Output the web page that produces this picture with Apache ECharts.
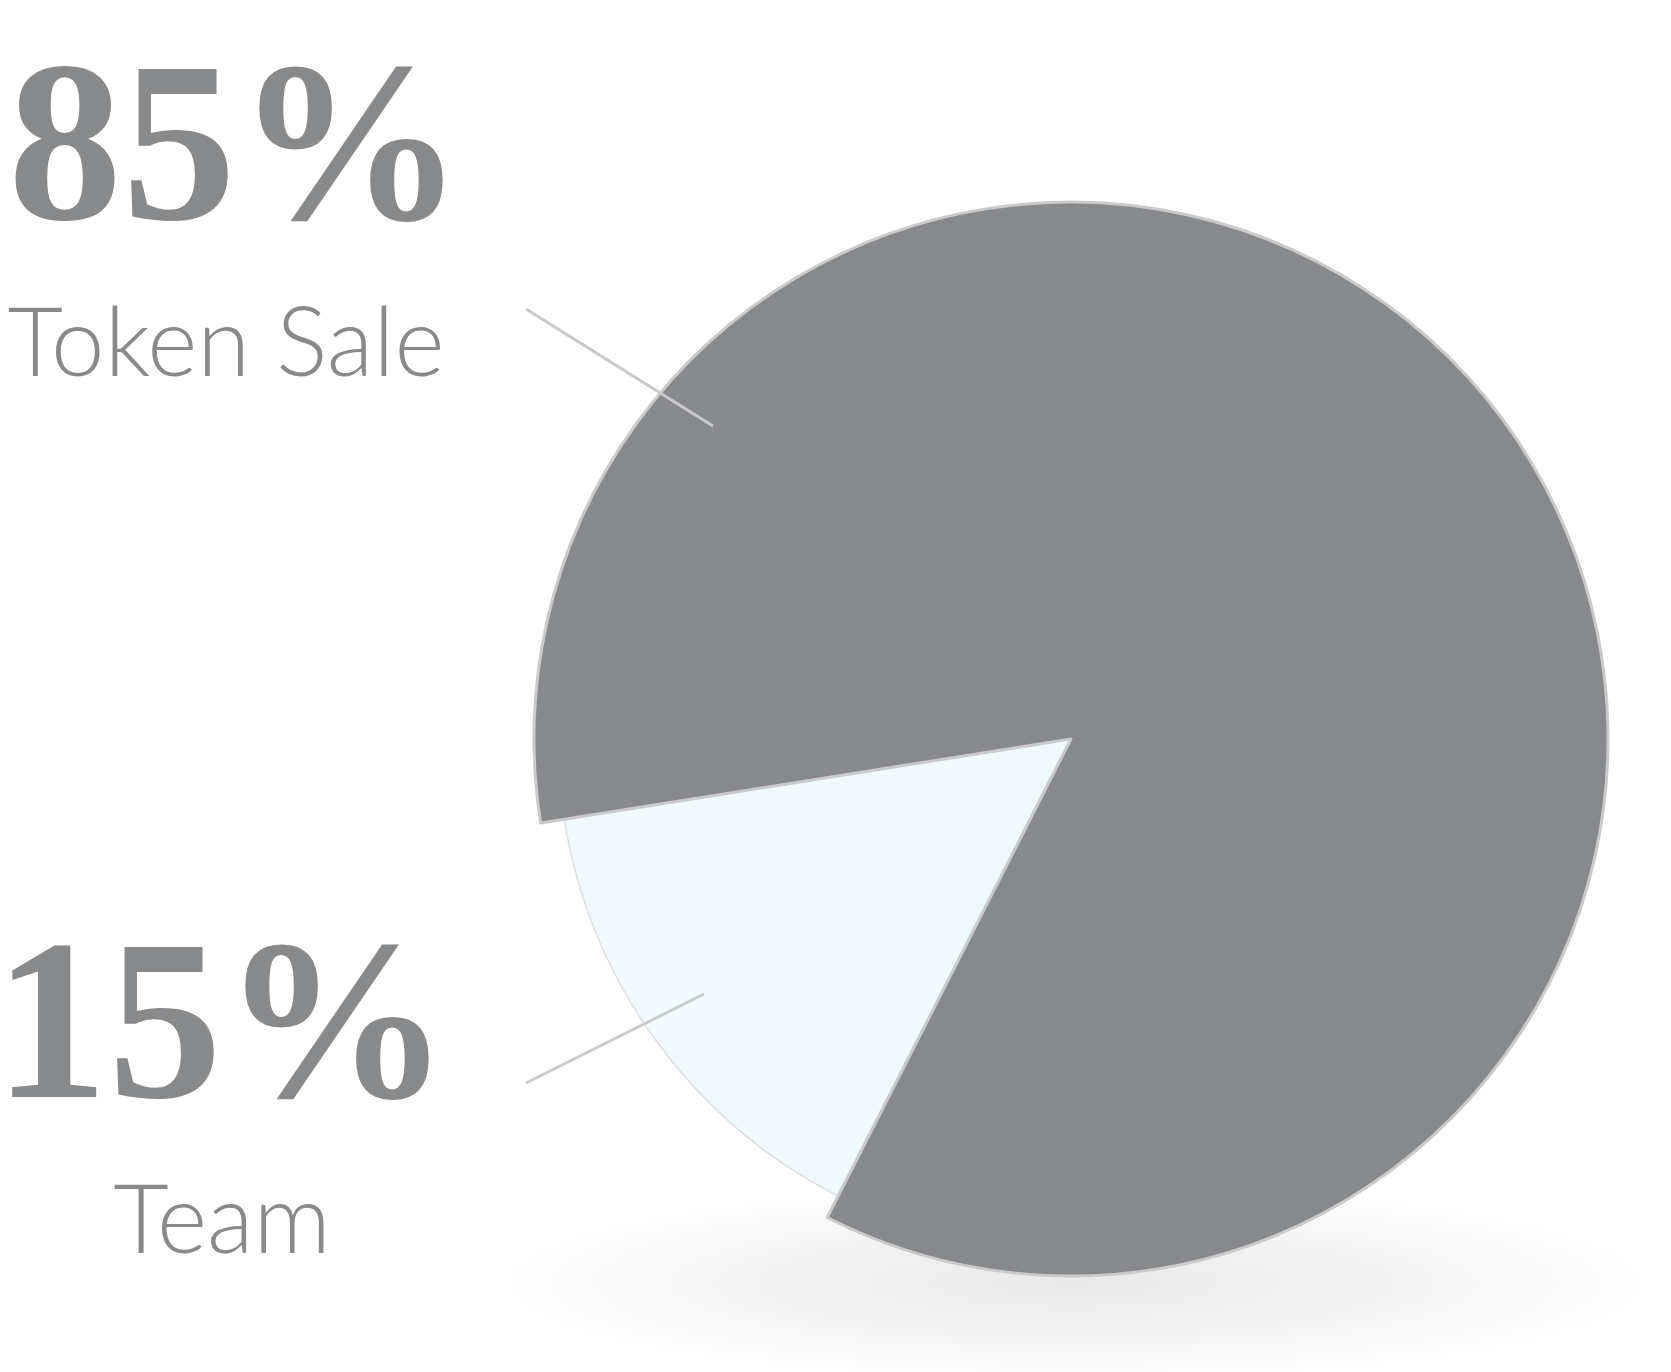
<!DOCTYPE html>
<html>
<head>
<meta charset="utf-8">
<style>
html,body{margin:0;padding:0;background:#ffffff;}
#chart{width:1671px;height:1372px;}
</style>
<script src="https://cdn.jsdelivr.net/npm/echarts@6/dist/echarts.min.js"></script>
</head>
<body>
<div id="chart"></div>
<script>
// ---- data ----
var categories = ['Token Sale', 'Team'];
var values = [85, 15];
var sliceColors = ['#88898b', '#f2f9fd'];

var chart = echarts.init(document.getElementById('chart'), null, {renderer: 'canvas'});

var CX = 1071, CY = 739;
var R_OUT = 537, R_TEAM = 513;

function itemsFor(keepIndex, borderColor, borderWidth) {
  return categories.map(function (name, i) {
    var show = i === keepIndex;
    return {
      name: name,
      value: values[i],
      itemStyle: show ? {
        color: sliceColors[i],
        borderColor: borderColor,
        borderWidth: borderWidth
      } : {color: 'rgba(0,0,0,0)', borderWidth: 0}
    };
  });
}

var pctFont = '"Liberation Serif", "DejaVu Serif", serif';
var nameFont = 'Lato, "Noto Sans", sans-serif';
var txtColor = '#88898b';
var lineColor = '#c8c9cb';

var labelCenters = [
  {pctX: 236, nameX: 226, pctY: 160, nameY: 345, line: [526, 309, 713, 426]},
  {pctX: 222, nameX: 222, pctY: 1038, nameY: 1222, line: [526, 1083, 704, 994]}
];

var graphics = [
  {
    type: 'circle',
    x: 1075, y: 1283,
    scaleY: 0.17,
    z: -10,
    silent: true,
    shape: {cx: 0, cy: 0, r: 580},
    style: {
      fill: new echarts.graphic.RadialGradient(0.5, 0.5, 0.5, [
        {offset: 0, color: 'rgba(0,0,0,0.085)'},
        {offset: 0.5, color: 'rgba(0,0,0,0.05)'},
        {offset: 1, color: 'rgba(0,0,0,0)'}
      ])
    }
  }
];
categories.forEach(function (name, i) {
  var lc = labelCenters[i];
  graphics.push({
    type: 'text', z: 10, silent: true,
    x: lc.pctX, y: lc.pctY,
    style: {
      text: values[i] + '%',
      font: 'bold 228px ' + pctFont,
      fill: txtColor,
      align: 'center', verticalAlign: 'middle'
    }
  });
  graphics.push({
    type: 'text', z: 10, silent: true,
    x: lc.nameX, y: lc.nameY,
    style: {
      text: name,
      font: '300 96px ' + nameFont,
      fill: txtColor,
      align: 'center', verticalAlign: 'middle'
    }
  });
  graphics.push({
    type: 'line', z: 10, silent: true,
    shape: {x1: lc.line[0], y1: lc.line[1], x2: lc.line[2], y2: lc.line[3]},
    style: {stroke: lineColor, lineWidth: 3}
  });
});

var option = {
  backgroundColor: '#ffffff',
  animation: false,
  graphic: graphics,
  series: [
    {
      type: 'pie',
      z: 2,
      center: [CX, CY],
      radius: [0, R_TEAM],
      startAngle: 189,
      clockwise: true,
      label: {show: false},
      labelLine: {show: false},
      silent: true,
      data: itemsFor(1, '#dcdfe1', 1.5)
    },
    {
      type: 'pie',
      z: 3,
      center: [CX, CY],
      radius: [0, R_OUT],
      startAngle: 189,
      clockwise: true,
      label: {show: false},
      labelLine: {show: false},
      silent: true,
      data: itemsFor(0, '#c9cacc', 3)
    }
  ]
};
chart.setOption(option);
</script>
</body>
</html>
